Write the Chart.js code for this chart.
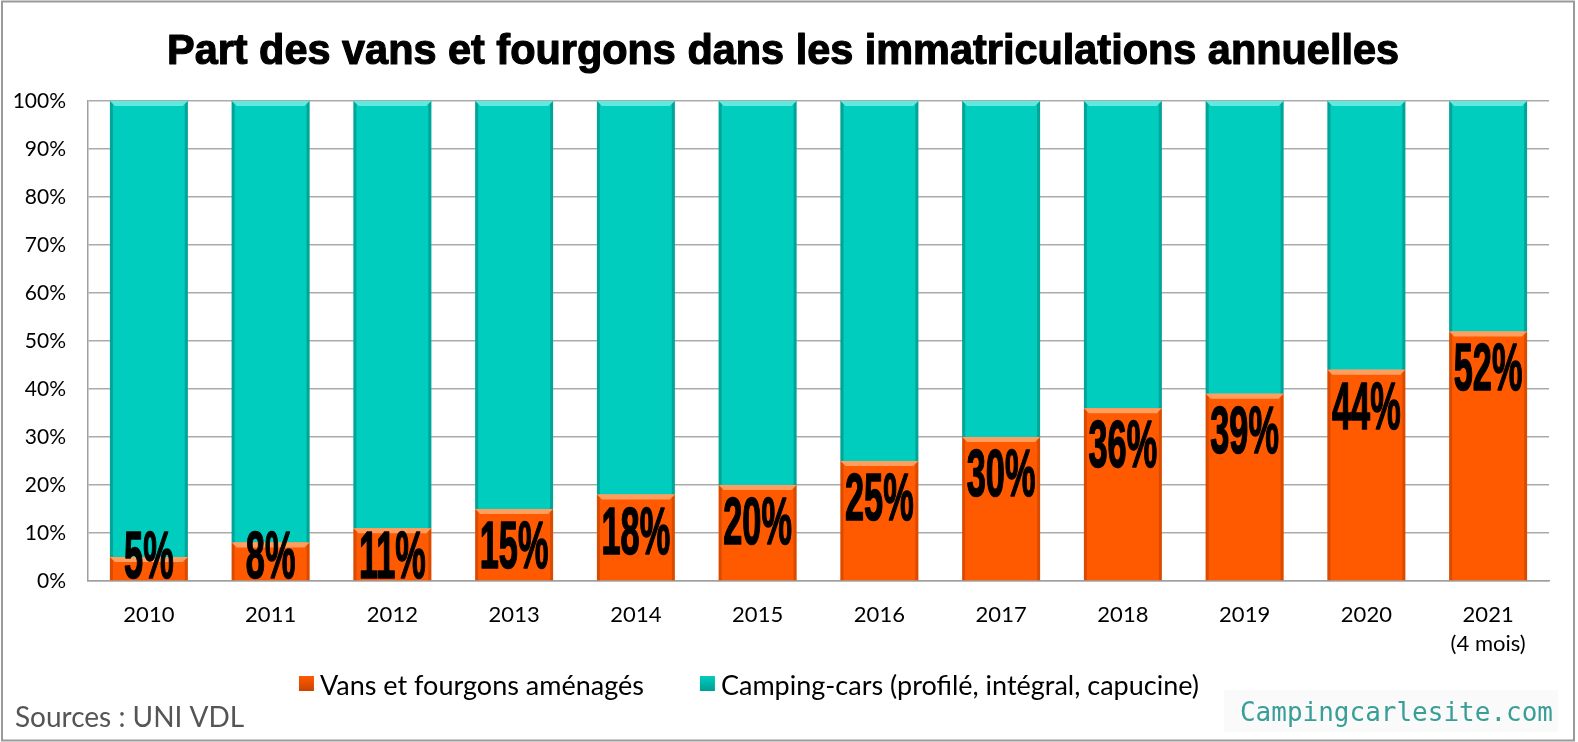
<!DOCTYPE html>
<html>
<head>
<meta charset="utf-8">
<script src="https://cdn.jsdelivr.net/npm/chart.js@4.4.0/dist/chart.umd.min.js"></script>
<style>
  html, body { margin: 0; padding: 0; background: #ffffff; }
  #wrap { width: 1578px; height: 742px; }
</style>
</head>
<body>
<div id="wrap"><canvas id="c" width="1578" height="742"></canvas></div>
<script>
// ---- data ----
const categories = ['2010','2011','2012','2013','2014','2015','2016','2017','2018','2019','2020',['2021','(4 mois)']];
const vansValues = [5, 8, 11, 15, 18, 20, 25, 30, 36, 39, 44, 52];
const campingValues = [95, 92, 89, 85, 82, 80, 75, 70, 64, 61, 56, 48];
const vansLabels = ['5%','8%','11%','15%','18%','20%','25%','30%','36%','39%','44%','52%'];
const seriesNames = ['Vans et fourgons aménagés', 'Camping-cars (profilé, intégral, capucine)'];
const titleText = 'Part des vans et fourgons dans les immatriculations annuelles';
const sourceText = 'Sources : UNI VDL';
const siteText = 'Campingcarlesite.com';

const ORANGE = '#FF5A00';
const TEAL = '#00CDBD';

const bgPlugin = {
  id: 'bg',
  beforeDraw(chart) {
    const ctx = chart.ctx;
    ctx.save();
    ctx.fillStyle = '#ffffff';
    ctx.fillRect(0, 0, chart.width, chart.height);
    ctx.restore();
  },
  afterDraw(chart) {
    const ctx = chart.ctx;
    ctx.save();
    ctx.strokeStyle = '#9a9a9a';
    ctx.lineWidth = 2;
    ctx.strokeRect(2, 1.5, 1572, 739);
    // title
    ctx.fillStyle = '#000';
    ctx.strokeStyle = '#000';
    ctx.lineWidth = 1.2;
    ctx.lineJoin = 'round';
    ctx.textAlign = 'center';
    ctx.textBaseline = 'alphabetic';
    ctx.font = 'bold 43px "Liberation Sans", Arial, sans-serif';
    const tw = ctx.measureText(titleText).width;
    ctx.save();
    ctx.translate(783, 64);
    const sx = Math.min(1.2, 1232 / tw);
    ctx.scale(sx, 1);
    ctx.fillText(titleText, 0, 0);
    ctx.strokeText(titleText, 0, 0);
    ctx.restore();
    // legend
    ctx.font = '27px Lato, sans-serif';
    ctx.textAlign = 'left';
    const w1 = ctx.measureText(seriesNames[0]).width;
    const w2 = ctx.measureText(seriesNames[1]).width;
    const box = 15, gap = 6, itemGap = 56;
    const total = box + gap + w1 + itemGap + box + gap + w2;
    let x = 749 - total / 2;
    const colors = [ORANGE, TEAL];
    const darks = ['#C94400', '#009E92'];
    [w1, w2].forEach((w, i) => {
      const g = ctx.createLinearGradient(0, 676, 0, 691);
      g.addColorStop(0, colors[i]);
      g.addColorStop(1, darks[i]);
      ctx.fillStyle = g;
      ctx.fillRect(x, 676, box, box);
      ctx.fillStyle = '#000';
      ctx.fillText(seriesNames[i], x + box + gap, 695);
      x += box + gap + w + itemGap;
    });
    // sources
    ctx.fillStyle = '#555555';
    ctx.font = '28px Lato, sans-serif';
    ctx.fillText(sourceText, 15, 727);
    // site
    ctx.fillStyle = '#FAFAFA';
    ctx.fillRect(1224, 690, 334, 42);
    ctx.fillStyle = '#3A9E98';
    ctx.font = '26px "DejaVu Sans Mono", monospace';
    ctx.textAlign = 'right';
    ctx.fillText(siteText, 1553, 721);
    ctx.restore();
  }
};

const bevelPlugin = {
  id: 'bevel',
  afterDatasetsDraw(chart) {
    const ctx = chart.ctx;
    const lights = ['rgba(255,170,110,0.85)', 'rgba(110,238,228,0.85)'];
    const shades = ['rgba(150,50,0,0.35)', 'rgba(0,90,85,0.35)'];
    ctx.save();
    chart.data.datasets.forEach((ds, di) => {
      const meta = chart.getDatasetMeta(di);
      meta.data.forEach((el) => {
        const p = el.getProps(['x', 'y', 'base', 'width'], true);
        const l = p.x - p.width / 2, r = p.x + p.width / 2;
        const t = Math.min(p.y, p.base), b = Math.max(p.y, p.base);
        const bv = 5;
        ctx.fillStyle = lights[di];
        ctx.beginPath();
        ctx.moveTo(l, t); ctx.lineTo(r, t); ctx.lineTo(r - bv, t + bv); ctx.lineTo(l + bv, t + bv); ctx.closePath();
        ctx.fill();
        ctx.fillStyle = shades[di];
        ctx.beginPath();
        ctx.moveTo(l, t); ctx.lineTo(l + 3, t + 3); ctx.lineTo(l + 3, b); ctx.lineTo(l, b); ctx.closePath();
        ctx.fill();
        ctx.beginPath();
        ctx.moveTo(r, t); ctx.lineTo(r - 3, t + 3); ctx.lineTo(r - 3, b); ctx.lineTo(r, b); ctx.closePath();
        ctx.fill();
      });
    });
    // value labels for vans series
    const meta0 = chart.getDatasetMeta(0);
    ctx.fillStyle = '#000';
    ctx.strokeStyle = '#000';
    ctx.lineWidth = 1.6;
    ctx.lineJoin = 'round';
    ctx.font = 'bold 66px "Liberation Sans", Arial, sans-serif';
    ctx.textAlign = 'center';
    ctx.textBaseline = 'alphabetic';
    const capH = 47;
    meta0.data.forEach((el, i) => {
      const p = el.getProps(['x', 'y', 'base'], true);
      const top = Math.min(p.y + 12, p.base - 2 - capH);
      ctx.save();
      ctx.translate(p.x, top + capH);
      ctx.scale(0.52, 1);
      ctx.fillText(vansLabels[i], 0, 0);
      ctx.strokeText(vansLabels[i], 0, 0);
      ctx.restore();
    });
    ctx.restore();
  }
};

new Chart(document.getElementById('c'), {
  type: 'bar',
  data: {
    labels: categories,
    datasets: [
      { label: seriesNames[0], data: vansValues, backgroundColor: ORANGE, borderWidth: 0 },
      { label: seriesNames[1], data: campingValues, backgroundColor: TEAL, borderWidth: 0 }
    ]
  },
  options: {
    responsive: false,
    animation: false,
    devicePixelRatio: 1,
    layout: { padding: { top: 101, right: 29, left: 0, bottom: 81 } },
    datasets: { bar: { categoryPercentage: 1.0, barPercentage: 0.64 } },
    plugins: {
      legend: { display: false },
      title: { display: false },
      tooltip: { enabled: false }
    },
    scales: {
      x: {
        stacked: true,
        grid: { display: false, drawTicks: false },
        border: { display: true, color: '#A0A0A0', width: 1.5 },
        ticks: {
          color: '#000',
          font: { family: 'Lato', size: 22, lineHeight: 1.3 },
          padding: 20,
          maxRotation: 0,
          autoSkip: false
        },
        afterFit(scale) { scale.height = 80; }
      },
      y: {
        stacked: true,
        min: 0,
        max: 100,
        grid: { color: '#ABABAB', lineWidth: 1.5, drawTicks: false },
        border: { display: true, color: '#A0A0A0', width: 1.5 },
        ticks: {
          stepSize: 10,
          color: '#000',
          font: { family: 'Lato', size: 21 },
          padding: 22,
          callback: (v) => v + '%'
        },
        afterFit(scale) { scale.width = 88; }
      }
    }
  },
  plugins: [bgPlugin, bevelPlugin]
});
</script>
</body>
</html>
